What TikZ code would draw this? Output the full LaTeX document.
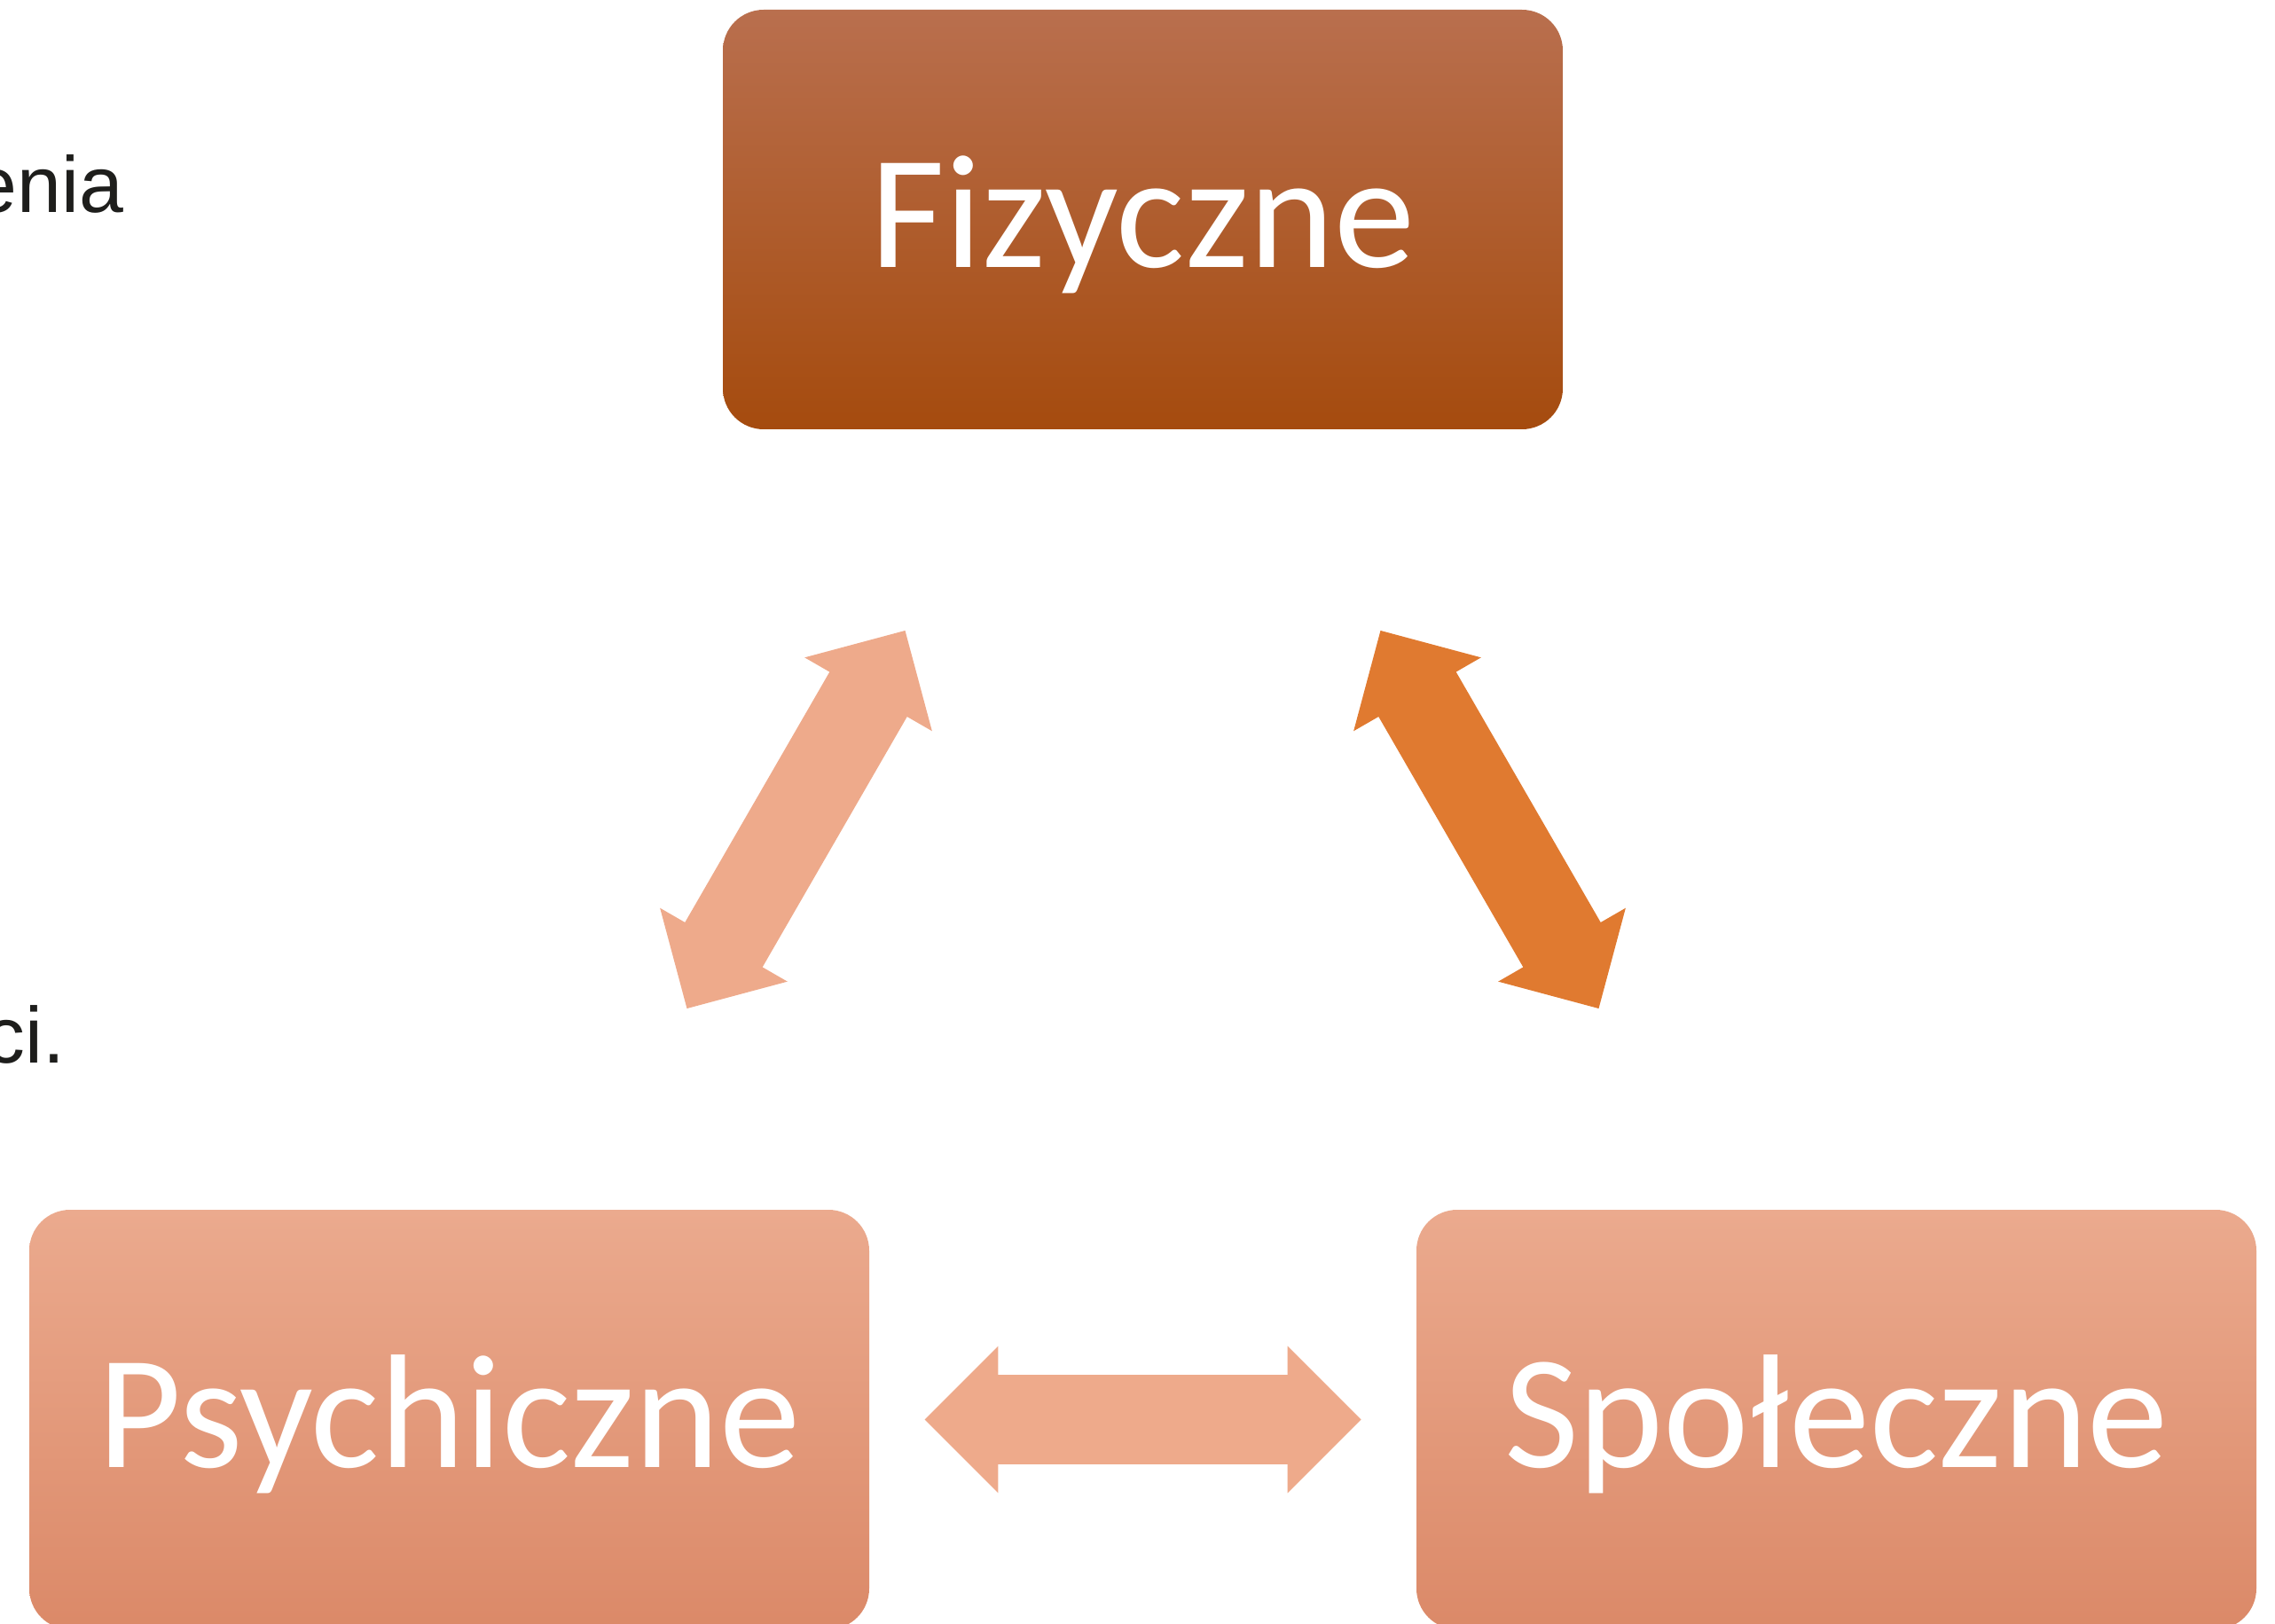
\documentclass[tikz,border=0pt]{standalone}
\usepackage{fontspec}
\setmainfont{Carlito}
\newfontfamily\fragfont{Liberation Sans}
\usepackage{tikz}
\usetikzlibrary{arrows,positioning,shapes,shapes.arrows,calc}

\definecolor{fizTop}{RGB}{185,111,78}
\definecolor{fizMid}{RGB}{179,89,32}
\definecolor{fizBot}{RGB}{165,75,14}
\definecolor{jasTop}{RGB}{235,170,142}
\definecolor{jasMid}{RGB}{238,159,126}
\definecolor{jasBot}{RGB}{219,137,104}
\definecolor{strJasna}{RGB}{238,170,139}
\definecolor{strCiemna}{RGB}{224,122,48}
\definecolor{tusz}{RGB}{30,30,28}

\begin{document}
\begin{tikzpicture}[every node/.style={inner sep=0pt},
    kafel/.style={rectangle, rounded corners=0.46cm, minimum width=9.47cm, minimum height=4.73cm,
        text=white, font=\fontsize{52}{60}\selectfont, text height=1.3cm, text depth=0.22cm},
    dwustr/.style={double arrow, minimum height=4.92cm, inner xsep=0pt, inner ysep=0.4975cm,
        double arrow head extend=0.325cm, double arrow tip angle=90, double arrow head indent=0cm},
    urywek/.style={anchor=base east, text=tusz, font=\fragfont\fontsize{25.5}{30}\selectfont}]
            \useasboundingbox (0,0) rectangle (25.65,-18.31);
            \clip (0,0) rectangle (25.65,-18.31);

            % resztki tekstu z lewej
            \node[urywek] (frag1) at (1.40,-2.40) {enia};
            \node[urywek] (frag2) at (0.74,-11.99) {ci.};

            % kafle
            \node[kafel, top color=fizTop, middle color=fizMid, bottom color=fizBot] (fiz) at (12.885,-2.475) {Fizyczne};
            \node[kafel, top color=jasTop, middle color=jasMid, bottom color=jasBot] (psy) at (5.065,-16.005) {Psychiczne};
            \node[kafel, top color=jasTop, middle color=jasMid, bottom color=jasBot] (spo) at (20.705,-16.005) {Społeczne};

            % strzalki
            \node[dwustr, fill=strJasna, rotate=60] (psyfiz) at ($(psy)!0.5!(fiz)$) {};
            \node[dwustr, fill=strCiemna, rotate=-60] (fizspo) at ($(fiz)!0.5!(spo)$) {};
            \node[dwustr, fill=strJasna] (psyspo) at ($(psy)!0.5!(spo)$) {};

    \end{tikzpicture}
\end{document}
